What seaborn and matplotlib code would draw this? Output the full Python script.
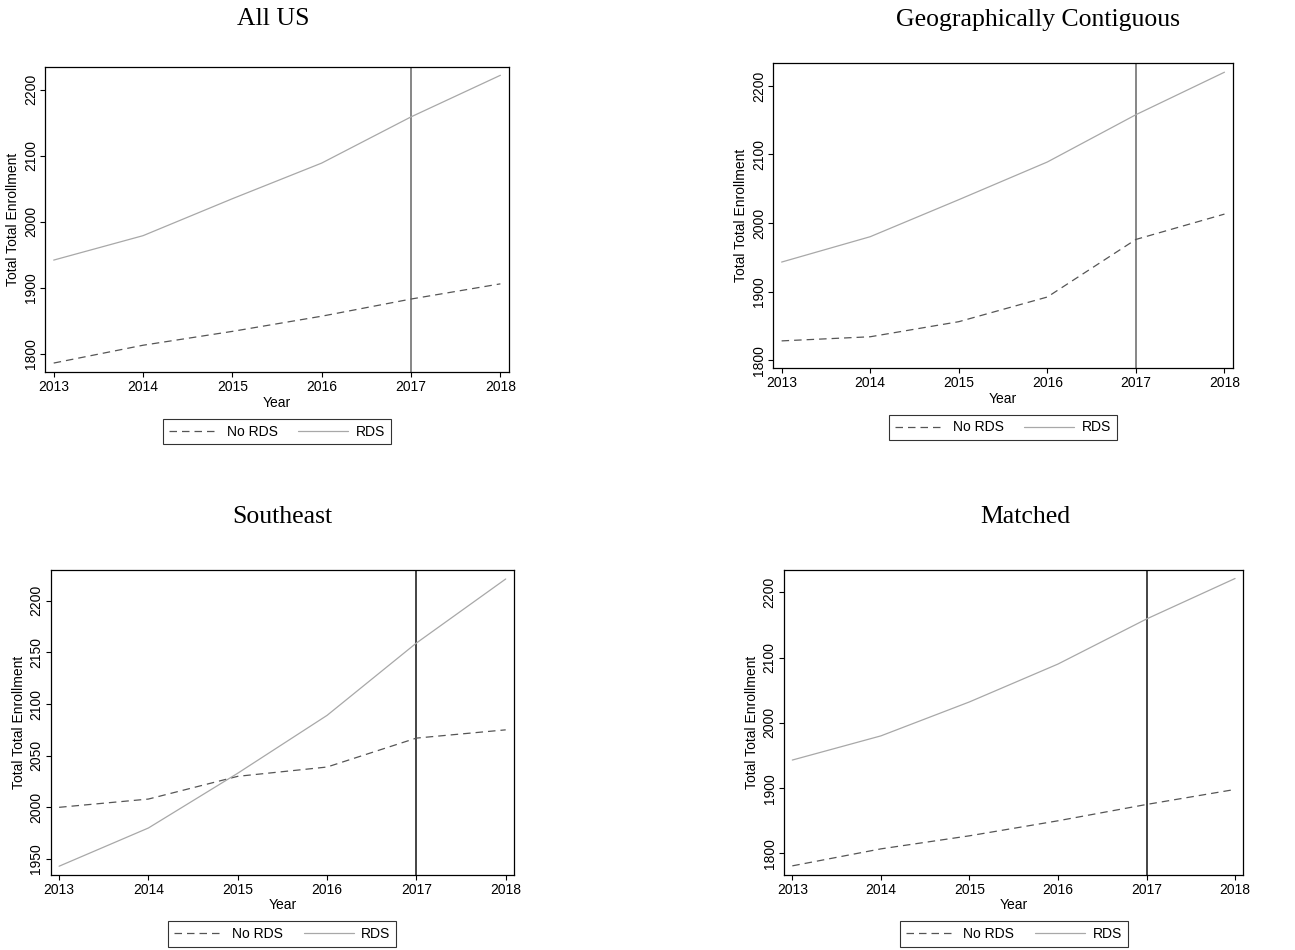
import numpy as np
import pandas as pd
import matplotlib
matplotlib.use("Agg")
import matplotlib.pyplot as plt
import seaborn as sns

# ---------------- data ----------------
years = [2013, 2014, 2015, 2016, 2017, 2018]
titles = ["All US", "Geographically Contiguous", "Southeast", "Matched"]
group_labels = ["No RDS", "RDS"]

no_rds_allus = [1786, 1813, 1834, 1857, 1883, 1906]
rds_allus = [1942, 1979, 2035, 2089, 2159, 2222]

no_rds_geo = [1828, 1834, 1856, 1892, 1976, 2013]
rds_geo = [1943, 1980, 2034, 2089, 2158, 2220]

no_rds_se = [2000, 2008, 2030, 2039, 2067, 2075]
rds_se = [1943, 1980, 2033, 2089, 2159, 2221]

no_rds_matched = [1781, 1807, 1827, 1850, 1875, 1898]
rds_matched = [1943, 1980, 2032, 2090, 2159, 2221]

yticks_main = [1800, 1900, 2000, 2100, 2200]
yticks_se = [1950, 2000, 2050, 2100, 2150, 2200]
policy_year = 2017

# ---------------- style ----------------
sns.set_theme(style="ticks")
plt.rcParams["font.family"] = ["Liberation Sans", "DejaVu Sans"]
plt.rcParams["text.color"] = "black"
plt.rcParams["axes.labelcolor"] = "black"

W, H = 1295, 950
fig = plt.figure(figsize=(W / 100, H / 100), dpi=100)
fig.patch.set_facecolor("white")

# axes boxes in pixels: left, top, right, bottom
boxes = [
    (45.3, 66.7, 508.7, 372.3),
    (773.3, 63.3, 1232.7, 368.3),
    (50.7, 570.0, 514.0, 875.0),
    (784.0, 570.0, 1243.3, 875.0),
]
ylims = [(1772, 2235), (1788, 2233), (1934.5, 2229.7), (1767, 2234)]
vline_colors = ["#666666", "#666666", "#111111", "#111111"]
title_pos = [(273.5, 25), (1037.5, 26), (282, 523), (1025, 523)]
series = [
    (no_rds_allus, rds_allus),
    (no_rds_geo, rds_geo),
    (no_rds_se, rds_se),
    (no_rds_matched, rds_matched),
]
ytick_sets = [yticks_main, yticks_main, yticks_se, yticks_main]

palette = {"No RDS": "#555555", "RDS": "#a8a8a8"}
dashes = {"No RDS": (6.0, 4.0), "RDS": ""}
fs = 10

for i in range(4):
    l, t, r, b = boxes[i]
    ax = fig.add_axes([l / W, 1 - b / H, (r - l) / W, (b - t) / H])
    no_v, rds_v = series[i]
    df = pd.DataFrame({
        "Year": years * 2,
        "Enrollment": list(no_v) + list(rds_v),
        "Group": [group_labels[0]] * len(years) + [group_labels[1]] * len(years),
    })
    sns.lineplot(data=df, x="Year", y="Enrollment", hue="Group", style="Group",
                 palette=palette, dashes=dashes, linewidth=0.9, ax=ax,
                 hue_order=group_labels, style_order=group_labels)
    ax.axvline(policy_year, color=vline_colors[i], linewidth=1.1, zorder=1)

    ax.set_xlim(2012.906, 2018.093)
    ax.set_ylim(*ylims[i])
    ax.set_xticks(years)
    ax.set_xticklabels([str(y) for y in years])
    ax.set_yticks(ytick_sets[i])
    ax.set_yticklabels([str(v) for v in ytick_sets[i]])

    for s in ax.spines.values():
        s.set_visible(True)
        s.set_color("black")
        s.set_linewidth(0.9)
    ax.tick_params(axis="both", direction="out", length=3.8, width=0.8,
                   colors="black", labelsize=fs)
    ax.tick_params(axis="x", pad=2.0)
    ax.tick_params(axis="y", pad=1.5, labelrotation=90)
    for lab in ax.get_yticklabels():
        lab.set_va("center")

    ax.set_xlabel("Year", fontsize=fs, labelpad=1.0)
    ax.set_ylabel("Total Total Enrollment", fontsize=fs, labelpad=2.5)
    ax.grid(False)

    handles, labels = ax.get_legend_handles_labels()
    leg = ax.legend(handles, labels, loc="upper center",
                    bbox_to_anchor=(0.5, -0.152), ncol=2, frameon=True,
                    fancybox=False, edgecolor="black", fontsize=fs,
                    handlelength=3.6, handletextpad=0.55, columnspacing=1.5,
                    borderpad=0.42, borderaxespad=0.0)
    leg.get_frame().set_linewidth(0.8)
    for lh in leg.get_lines():
        lh.set_linewidth(0.9)

    tx, ty = title_pos[i]
    fig.text(tx / W, 1 - ty / H, titles[i], ha="center", va="baseline",
             fontsize=18.5, color="black",
             family=["Liberation Serif", "DejaVu Serif"])

fig.savefig("out.png", dpi=100, facecolor="white")
